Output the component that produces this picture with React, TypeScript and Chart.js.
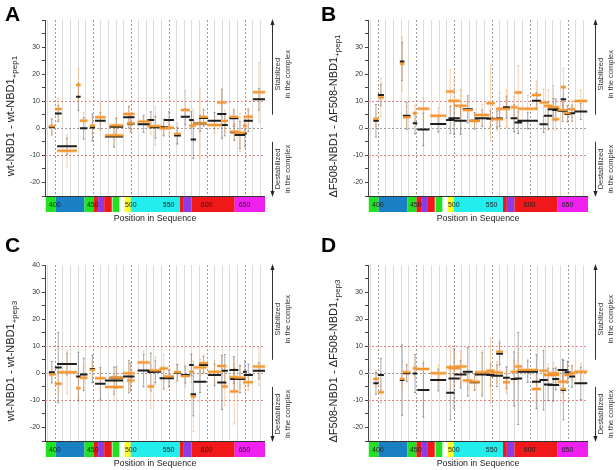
import React, { useEffect, useRef } from "react";
import { Chart, registerables } from "chart.js";
Chart.register(...registerables);

const FONT = '"Liberation Sans", Arial, sans-serif';

// Axis ranges and ticks
const X_MIN = 387;
const X_MAX = 677;
const Y_MIN = -25;
const Y_MAX = 40;
const X_TICK_LABELS = [400, 450, 500, 550, 600, 650];
const Y_LABELS_TOP = [-20, -10, 0, 10, 20, 30];
const Y_LABELS_C = [-20, -10, 0, 10, 20, 30, 40];

// Domain strip under the x axis
const DOMAIN_START = [388, 401, 439, 451, 457, 465, 476, 492, 500, 565, 570, 580, 637];
const DOMAIN_END = [401, 439, 451, 457, 465, 475, 485, 500, 565, 570, 580, 637, 677];
const DOMAIN_COLOR = ["#22e022", "#1a80c4", "#22e022", "#f01818", "#8c3ce6", "#f01818", "#22e022", "#ffff1a", "#22eeee", "#f01818", "#8c3ce6", "#f01818", "#f020f0"];

// wt-NBD1 peptides (panels A, C)
const WT_START = [392, 400, 403, 428, 433, 446, 453, 466, 472, 490, 495, 509, 522, 525, 538, 544, 557, 566, 577, 579, 583, 590, 602, 614, 620, 630, 631, 637, 648, 649, 661];
const WT_END = [400, 409, 429, 434, 443, 453, 467, 490, 490, 505, 505, 525, 531, 540, 549, 557, 566, 578, 583, 586, 600, 602, 619, 626, 628, 642, 642, 651, 653, 661, 677];

const A_ORANGE = [0.8, 7.1, -8.3, 16.0, 2.8, 0.9, 4.1, -2.7, 1.0, 5.3, 1.8, 2.5, 0.8, 0.8, 0.0, 0.2, -2.1, 6.8, 0.9, 1.0, 1.8, 4.2, 1.2, 9.5, 2.7, 4.2, -1.3, -1.6, 0.9, 4.3, 13.3];
const A_BLACK = [0.5, 5.5, -6.6, 11.7, 0.0, 0.3, 2.8, -3.0, 0.6, 4.1, 1.7, 1.5, 3.1, 0.4, 0.4, 3.1, -2.7, 4.3, 3.1, -4.1, 1.8, 3.8, 2.8, 5.3, 1.2, 3.7, -1.5, -2.5, -1.9, 2.8, 10.7];
const A_ORANGE_ERR = [2.5, 4, 6, 6, 3, 3, 5, 4, 3, 3, 3, 2.5, 3, 7, 3, 3, 4, 7, 3, 6, 13, 3, 3, 5, 4, 3, 3, 7, 3, 3, 11];
const A_BLACK_ERR = [3, 3, 3, 5, 4, 5, 3, 4, 3, 4, 3, 3, 3, 4, 3, 3, 3, 3, 3, 7, 3, 3, 3, 9, 4, 3, 3, 5, 5, 4, 4];

const C_ORANGE = [-0.4, -3.9, 0.4, -5.5, -1.6, 1.3, -1.8, -5.1, -1.6, 0.0, -2.7, 4.0, -4.9, 1.0, 1.8, -1.2, 0.4, -1.0, 0.6, -8.6, 2.1, 3.7, 0.6, 2.7, -4.9, -1.5, -6.7, -1.6, -3.3, -3.3, 2.5];
const C_BLACK = [0.4, 2.1, 3.4, -1.2, -0.4, 1.6, -3.9, -2.7, -1.6, -1.2, -1.2, 1.0, 0.5, 0.6, -1.8, -1.8, 0.2, -0.6, 3.1, -7.7, -3.1, 3.1, -0.6, -3.4, 0.9, 1.2, -2.1, -2.1, 0.6, -0.6, 0.9];
const C_ORANGE_ERR = [3, 4, 8, 4, 4, 3, 4, 5, 4, 4, 4, 4, 8, 5, 5, 4, 3, 4, 4, 13, 3, 3, 4, 4, 7, 5, 12, 4, 4, 3, 7];
const C_BLACK_ERR = [4, 13, 4, 9, 6, 5, 6, 5, 4, 6, 5, 6, 7, 4, 4, 3, 3, 3, 4, 8, 4, 3, 4, 10, 6, 5, 4, 5, 4, 4, 3];

// dF508-NBD1 peptides (panels B, D)
const DF_START = [394, 400, 429, 433, 446, 452, 469, 490, 493, 501, 512, 521, 528, 543, 549, 556, 565, 575, 580, 584, 603, 613, 619, 624, 630, 637, 641, 646, 652, 659];
const DF_END = [401, 408, 435, 443, 452, 468, 490, 501, 508, 517, 525, 534, 547, 554, 565, 565, 574, 584, 590, 611, 615, 624, 630, 639, 639, 650, 648, 654, 660, 676];

const B_ORANGE = [3.5, 11.4, 23.8, 4.1, 5.6, 7.2, 4.6, 13.6, 10.2, 8.3, 6.8, 2.7, 4.9, 9.3, 3.3, 7.2, 7.2, 7.8, 13.2, 7.2, 12.3, 9.5, 8.3, 7.8, 3.3, 6.8, 15.2, 5.6, 7.0, 10.1];
const B_BLACK = [2.8, 12.3, 24.7, 4.6, 1.9, -0.4, 1.6, 3.1, 3.7, 2.8, 7.0, 2.8, 3.7, 3.5, 3.4, 3.6, 7.8, 3.7, 2.1, 2.8, 10.2, 1.5, 4.6, 7.0, 6.8, 6.5, 10.7, 5.3, 5.6, 6.2];
const B_ORANGE_ERR = [3, 7, 10, 4, 3, 4, 3, 8, 8, 6, 4, 3, 4, 14, 4, 6, 7, 4, 10, 5, 5, 5, 6, 8, 4, 4, 7, 3, 3, 4];
const B_BLACK_ERR = [6, 4, 7, 5, 4, 6, 3, 5, 6, 5, 5, 3, 3, 3, 3, 3, 4, 5, 4, 3, 3, 3, 5, 4, 4, 4, 5, 3, 3, 3];

const D_ORANGE = [-2.1, -7.0, -2.1, 0.4, 1.9, 1.6, 0.0, 2.2, 1.9, 2.5, -2.7, -3.1, 0.4, 0.9, 0.3, 8.0, -3.3, 0.6, 2.5, 1.2, -5.8, 0.9, -0.6, 0.0, -0.6, -3.1, -5.8, -0.6, 0.0, 0.6];
const D_BLACK = [-3.7, -0.6, -2.5, 0.0, -0.1, -6.2, -2.5, -7.2, -1.9, -0.4, 0.6, -3.3, -0.4, -0.6, -0.9, 7.2, -1.6, -2.1, -1.9, 0.6, -3.1, -2.5, -4.1, -4.3, -2.1, 1.2, -6.2, 0.4, -1.2, -3.7];
const D_ORANGE_ERR = [3, 4, 3, 3, 4, 3, 3, 8, 6, 6, 3, 3, 8, 12, 4, 4, 4, 4, 5, 4, 5, 5, 4, 4, 3, 4, 5, 3, 3, 3];
const D_BLACK_ERR = [4, 6, 13, 3, 7, 10, 4, 10, 11, 5, 9, 3, 8, 4, 4, 4, 4, 10, 17, 4, 10, 11, 6, 6, 4, 4, 11, 4, 4, 6];

const PANELS = [
  { letter: "A", left: 0, top: 0, L: 45, T: 20, lx: 5, ly: 21, start: WT_START, end: WT_END, orange: A_ORANGE, black: A_BLACK, oErr: A_ORANGE_ERR, bErr: A_BLACK_ERR, yLabels: Y_LABELS_TOP, main: "wt-NBD1 - wt-NBD1", sub: "+pep1" },
  { letter: "B", left: 308, top: 0, L: 60, T: 20, lx: 13, ly: 21, start: DF_START, end: DF_END, orange: B_ORANGE, black: B_BLACK, oErr: B_ORANGE_ERR, bErr: B_BLACK_ERR, yLabels: Y_LABELS_TOP, main: "\u0394F508-NBD1 - \u0394F508-NBD1", sub: "+pep1" },
  { letter: "C", left: 0, top: 235, L: 45, T: 30, lx: 5, ly: 17, start: WT_START, end: WT_END, orange: C_ORANGE, black: C_BLACK, oErr: C_ORANGE_ERR, bErr: C_BLACK_ERR, yLabels: Y_LABELS_C, main: "wt-NBD1 - wt-NBD1", sub: "+pep3" },
  { letter: "D", left: 308, top: 235, L: 60, T: 30, lx: 13, ly: 17, start: DF_START, end: DF_END, orange: D_ORANGE, black: D_BLACK, oErr: D_ORANGE_ERR, bErr: D_BLACK_ERR, yLabels: Y_LABELS_TOP, main: "\u0394F508-NBD1 - \u0394F508-NBD1", sub: "+pep3" },
];

const W = 308;
const H = 235;
const PW = 220;
const PH = 176;

function segData(start: number[], end: number[], vals: number[]) {
  const out: any[] = [];
  for (let i = 0; i < vals.length; i++) {
    out.push({ x: start[i], y: vals[i] }, { x: end[i], y: vals[i] }, { x: end[i], y: null });
  }
  return out;
}

function errData(start: number[], end: number[], vals: number[], errs: number[]) {
  const out: any[] = [];
  for (let i = 0; i < vals.length; i++) {
    const m = (start[i] + end[i]) / 2;
    out.push({ x: m, y: vals[i] - errs[i] }, { x: m, y: vals[i] + errs[i] }, { x: m, y: null });
  }
  return out;
}

function Panel({ cfg }: { cfg: any }) {
  const ref = useRef<HTMLCanvasElement>(null);
  useEffect(() => {
    const decor = {
      id: "decor" + cfg.letter,
      beforeDatasetsDraw(chart: any) {
        const { ctx, chartArea: a, scales } = chart;
        const x = scales.x;
        const y = scales.y;
        ctx.save();
        ctx.lineWidth = 1;
        for (let v = 390; v <= 670; v += 10) {
          const px = Math.round(x.getPixelForValue(v)) + 0.5;
          if (v % 50 === 0) {
            ctx.strokeStyle = "#9a9a9a";
            ctx.setLineDash([2, 2]);
          } else {
            ctx.strokeStyle = "#dcdcdc";
            ctx.setLineDash([]);
          }
          ctx.beginPath();
          ctx.moveTo(px, a.top);
          ctx.lineTo(px, a.bottom);
          ctx.stroke();
        }
        const refs: [number, string][] = [
          [10, "rgba(236,110,110,0.85)"],
          [-10, "rgba(236,110,110,0.85)"],
          [0, "#a0a0a0"],
        ];
        ctx.setLineDash([2, 2]);
        for (const [v, c] of refs) {
          const py = Math.round(y.getPixelForValue(v)) + 0.5;
          ctx.strokeStyle = c;
          ctx.beginPath();
          ctx.moveTo(a.left, py);
          ctx.lineTo(a.right, py);
          ctx.stroke();
        }
        ctx.restore();
      },
      afterDraw(chart: any) {
        const { ctx, chartArea: a, scales } = chart;
        const x = scales.x;
        const y = scales.y;
        ctx.save();
        ctx.strokeStyle = "#333";
        ctx.lineWidth = 1;
        ctx.beginPath();
        ctx.moveTo(a.left, a.bottom + 0.5);
        ctx.lineTo(a.right, a.bottom + 0.5);
        ctx.stroke();
        const sTop = a.bottom + 1;
        const sH = 15;
        for (let i = 0; i < DOMAIN_START.length; i++) {
          const x0 = x.getPixelForValue(DOMAIN_START[i]);
          const x1 = x.getPixelForValue(DOMAIN_END[i]);
          ctx.fillStyle = DOMAIN_COLOR[i];
          ctx.fillRect(x0, sTop, x1 - x0, sH);
        }
        ctx.fillStyle = "#222";
        ctx.font = `7px ${FONT}`;
        ctx.textAlign = "center";
        ctx.textBaseline = "middle";
        for (const v of X_TICK_LABELS) {
          ctx.fillText(String(v), x.getPixelForValue(v), sTop + sH / 2 + 0.5);
        }
        ctx.font = `8.8px ${FONT}`;
        ctx.fillStyle = "#222";
        ctx.fillText("Position in Sequence", (a.left + a.right) / 2, a.bottom + 23);
        const cy = (a.top + sTop + sH) / 2;
        const cx = a.left - 35;
        ctx.save();
        ctx.translate(cx, cy);
        ctx.rotate(-Math.PI / 2);
        ctx.textAlign = "left";
        ctx.textBaseline = "alphabetic";
        ctx.font = `11px ${FONT}`;
        const wm = ctx.measureText(cfg.main).width;
        ctx.font = `8px ${FONT}`;
        const ws = ctx.measureText(cfg.sub).width;
        const x0 = -(wm + ws) / 2;
        ctx.font = `11px ${FONT}`;
        ctx.fillText(cfg.main, x0, 4);
        ctx.font = `8px ${FONT}`;
        ctx.fillText(cfg.sub, x0 + wm, 7);
        ctx.restore();
        ctx.font = `bold 21px ${FONT}`;
        ctx.textAlign = "left";
        ctx.textBaseline = "alphabetic";
        ctx.fillStyle = "#000";
        ctx.fillText(cfg.letter, cfg.lx, cfg.ly);
        const ax = Math.round(a.right + 7) + 0.5;
        const yTop = y.getPixelForValue(Y_MAX);
        const yBot = y.getPixelForValue(Y_MIN);
        const y5 = y.getPixelForValue(5);
        const ym5 = y.getPixelForValue(-5);
        ctx.strokeStyle = "#333";
        ctx.fillStyle = "#222";
        ctx.lineWidth = 1;
        ctx.beginPath();
        ctx.moveTo(ax, yTop + 3);
        ctx.lineTo(ax, y5);
        ctx.moveTo(ax, ym5);
        ctx.lineTo(ax, yBot - 3);
        ctx.stroke();
        ctx.beginPath();
        ctx.moveTo(ax, yTop - 1);
        ctx.lineTo(ax - 2, yTop + 5);
        ctx.lineTo(ax + 2, yTop + 5);
        ctx.closePath();
        ctx.fill();
        ctx.beginPath();
        ctx.moveTo(ax, yBot + 1);
        ctx.lineTo(ax - 2, yBot - 5);
        ctx.lineTo(ax + 2, yBot - 5);
        ctx.closePath();
        ctx.fill();
        const drawRot = (txt: string, px: number, py: number) => {
          ctx.save();
          ctx.translate(px, py);
          ctx.rotate(-Math.PI / 2);
          ctx.textAlign = "center";
          ctx.textBaseline = "middle";
          ctx.font = `7.5px ${FONT}`;
          ctx.fillStyle = "#333";
          ctx.fillText(txt, 0, 0);
          ctx.restore();
        };
        drawRot("Stabilized", a.right + 13, y.getPixelForValue(20));
        drawRot("in the complex", a.right + 23, y.getPixelForValue(20));
        drawRot("Destabilized", a.right + 13, y.getPixelForValue(-15));
        drawRot("in the complex", a.right + 23, y.getPixelForValue(-15));
        ctx.restore();
      },
    };

    const chart = new Chart(ref.current as HTMLCanvasElement, {
      type: "line",
      data: {
        datasets: [
          {
            data: segData(cfg.start, cfg.end, cfg.orange),
            borderColor: "#f3952c",
            borderWidth: 2,
            pointRadius: 0,
            spanGaps: false,
            borderCapStyle: "butt",
          },
          {
            data: segData(cfg.start, cfg.end, cfg.black),
            borderColor: "#1e1e1e",
            borderWidth: 2,
            pointRadius: 0,
            spanGaps: false,
            borderCapStyle: "butt",
          },
          {
            data: segData(cfg.start, cfg.end, cfg.orange),
            borderColor: "rgba(248,180,110,0.45)",
            borderWidth: 4,
            pointRadius: 0,
            spanGaps: false,
            borderCapStyle: "butt",
          },
          {
            data: errData(cfg.start, cfg.end, cfg.orange, cfg.oErr),
            borderColor: "rgba(244,165,100,0.5)",
            borderWidth: 1,
            pointStyle: "line",
            pointRadius: 1,
            pointBorderWidth: 1,
            pointBorderColor: "rgba(244,165,100,0.6)",
            spanGaps: false,
          },
          {
            data: errData(cfg.start, cfg.end, cfg.black, cfg.bErr),
            borderColor: "rgba(90,90,90,0.5)",
            borderWidth: 1,
            pointStyle: "line",
            pointRadius: 1,
            pointBorderWidth: 1,
            pointBorderColor: "rgba(90,90,90,0.6)",
            spanGaps: false,
          },
        ],
      },
      options: {
        responsive: false,
        animation: false,
        devicePixelRatio: 1,
        events: [],
        layout: {
          autoPadding: false,
          padding: { left: 0, top: cfg.T, right: W - cfg.L - PW, bottom: H - cfg.T - PH },
        },
        plugins: { legend: { display: false }, tooltip: { enabled: false } },
        scales: {
          x: { type: "linear", display: false, min: X_MIN, max: X_MAX },
          y: {
            type: "linear",
            min: Y_MIN,
            max: Y_MAX,
            afterFit: (s: any) => {
              s.width = cfg.L;
            },
            ticks: {
              stepSize: 5,
              autoSkip: false,
              padding: 2,
              color: "#333",
              font: { family: FONT, size: 7 },
              callback: (v: any) => (cfg.yLabels.includes(Number(v)) ? String(v) : ""),
            },
            grid: { drawOnChartArea: false, drawTicks: true, tickLength: 3, color: "#444" },
            border: { display: true, color: "#444", width: 1 },
          },
        },
      } as any,
      plugins: [decor],
    });
    return () => chart.destroy();
  }, []);
  return (
    <canvas
      ref={ref}
      width={W}
      height={H}
      style={{ position: "absolute", left: cfg.left, top: cfg.top, width: W, height: H }}
    />
  );
}

export default function App() {
  return (
    <div style={{ position: "absolute", left: 0, top: 0, width: 616, height: 470, background: "#fff" }}>
      {PANELS.map((p) => (
        <Panel key={p.letter} cfg={p} />
      ))}
    </div>
  );
}
